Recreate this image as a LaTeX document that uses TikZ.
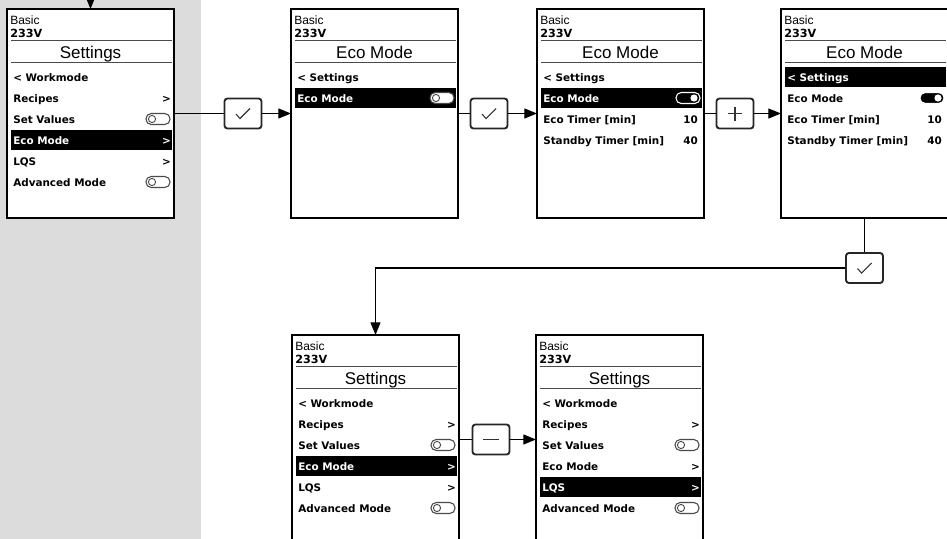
\documentclass[tikz,border=0pt]{standalone}
\usepackage{fontspec}
\setmainfont{Liberation Sans}
\newfontfamily\menufont{DejaVu Sans}
\usetikzlibrary{arrows.meta,positioning}
\definecolor{panelc}{HTML}{DCDCDC}
\definecolor{rulec}{HTML}{4A4A4A}
\tikzset{
  screen/.style={draw=black, fill=white, line width=1pt, minimum width=125.25pt, minimum height=156.75pt, anchor=north west, inner sep=0pt, outer sep=0pt},
  key/.style={draw=black!85, fill=white, line width=1.4pt, rounded corners=2.2pt, minimum width=27.75pt, minimum height=22.5pt, inner sep=0pt},
  icon/.style={draw=black!80, line width=0.8pt},
  flow/.style={line width=0.9pt, -{Triangle[length=9.5pt,width=7.5pt]}},
  link/.style={line width=0.9pt},
  smalltxt/.style={inner sep=0pt, anchor=base west, font=\fontsize{9pt}{9pt}\selectfont},
  volttxt/.style={inner sep=0pt, anchor=base west, font=\menufont\bfseries\fontsize{8.4pt}{8.4pt}\selectfont},
  titletxt/.style={inner sep=0pt, anchor=base, font=\fontsize{12.75pt}{12.75pt}\selectfont},
  item/.style={inner sep=0pt, anchor=base west, font=\menufont\bfseries\fontsize{7.8pt}{7.8pt}\selectfont},
  value/.style={item, anchor=base east},
  sep/.style={draw=rulec, line width=1.1pt},
  bar/.style={fill=black},
  switch/.style={line width=0.8pt, rounded corners=3.9pt},
}
\newcommand\hlrow{0}
\newcommand\itemc{black}
\newcommand\mitem[2]{%
  \ifnum#1=\hlrow\relax
    \fill[bar] (4,#1-10) rectangle (165,#1+10);
    \def\itemc{white}%
  \else
    \def\itemc{black}%
  \fi
  \node[item,text=\itemc] at (6,#1+4) {#2};}
\newcommand\mnext[1]{\node[item,text=\itemc,anchor=base east] at (164,#1+4) {>};}
\newcommand\mval[2]{\node[value,text=\itemc] at (161,#1+4) {#2};}
\newcommand\switchoff[1]{\draw[switch,draw=rulec,fill=white] (139,#1-5.5) rectangle (163,#1+5.5);
  \draw[rulec,line width=0.7pt] (145,#1) circle (3.6);}
\newcommand\switchon[1]{\draw[switch,draw=white,fill=black] (139,#1-5.5) rectangle (163,#1+5.5);
  \fill[white] (157,#1) circle (3.6);}
\newcommand\screenhead[1]{%
  \node[smalltxt] at (3,15) {Basic};
  \node[volttxt] at (3,28) {233V};
  \draw[sep] (4,31.5) -- (165,31.5);
  \node[titletxt] at (83.5,49) {#1};
  \draw[sep] (4,53.5) -- (165,53.5);}
\newcommand\settingsitems{%
  \mitem{68}{< Workmode}
  \mitem{89}{Recipes}\mnext{89}
  \mitem{110}{Set Values}\switchoff{110}
  \mitem{131}{Eco Mode}\mnext{131}
  \mitem{152}{LQS}\mnext{152}
  \mitem{173}{Advanced Mode}\switchoff{173}}
\newcommand\ecoitems{%
  \mitem{68}{< Settings}
  \mitem{89}{Eco Mode}\switchon{89}
  \mitem{110}{Eco Timer [min]}\mval{110}{10}
  \mitem{131}{Standby Timer [min]}\mval{131}{40}}
\newcommand\tick[1]{\draw[icon] ([shift={(-7,0.5)}]#1.center) -- ++(4,4.5) -- ++(10,-10);}

\begin{document}
\begin{tikzpicture}[x=0.75pt,y=-0.75pt]
\useasboundingbox (0,0) rectangle (947,539);
\clip (0,0) rectangle (947,539);
\fill[panelc] (0,0) rectangle (201,539);
\node[screen] (scrA) at (7,9) {};
\node[screen] (scrB) at (291,9) {};
\node[screen] (scrC) at (537,9) {};
\node[screen] (scrD) at (781,9) {};
\node[screen] (scrE) at (292,335) {};
\node[screen] (scrF) at (536,335) {};
\begin{scope}[shift={(7,9)}]
  \def\hlrow{131}
  \screenhead{Settings}
  \settingsitems
\end{scope}
\begin{scope}[shift={(291,9)}]
  \def\hlrow{89}
  \screenhead{Eco Mode}
  \mitem{68}{< Settings}
  \mitem{89}{Eco Mode}\switchoff{89}
\end{scope}
\begin{scope}[shift={(537,9)}]
  \def\hlrow{89}
  \screenhead{Eco Mode}
  \ecoitems
\end{scope}
\begin{scope}[shift={(781,9)}]
  \def\hlrow{68}
  \screenhead{Eco Mode}
  \ecoitems
\end{scope}
\begin{scope}[shift={(292,335)}]
  \def\hlrow{131}
  \screenhead{Settings}
  \settingsitems
\end{scope}
\begin{scope}[shift={(536,335)}]
  \def\hlrow{152}
  \screenhead{Settings}
  \settingsitems
\end{scope}
\node[key] (okA) at (243,113.5) {};
\node[key] (okB) at (489,113.5) {};
\node[key] (plus) at (735,113.5) {};
\node[key] (okD) at (864.5,268) {};
\node[key] (minus) at (491,439.5) {};
\tick{okA}
\tick{okB}
\tick{okD}
\draw[icon] ([shift={(-7,0)}]plus.center) -- ++(14,0);
\draw[icon] ([shift={(0,-7)}]plus.center) -- ++(0,14);
\draw[icon] ([shift={(-8,0)}]minus.center) -- ++(16,0);
\coordinate (entry) at (90.5,-5);
\draw[flow] (entry) -- (scrA);
\draw[link] (scrA) -- (okA);
\draw[flow] (okA) -- (scrB);
\draw[link] (scrB) -- (okB);
\draw[flow] (okB) -- (scrC);
\draw[link] (scrC) -- (plus);
\draw[flow] (plus) -- (scrD);
\draw[link] (scrD) -- (okD);
\draw[flow] (okD) -| (scrE);
\draw[link] (scrE) -- (minus);
\draw[flow] (minus) -- (scrF);
\end{tikzpicture}
\end{document}
